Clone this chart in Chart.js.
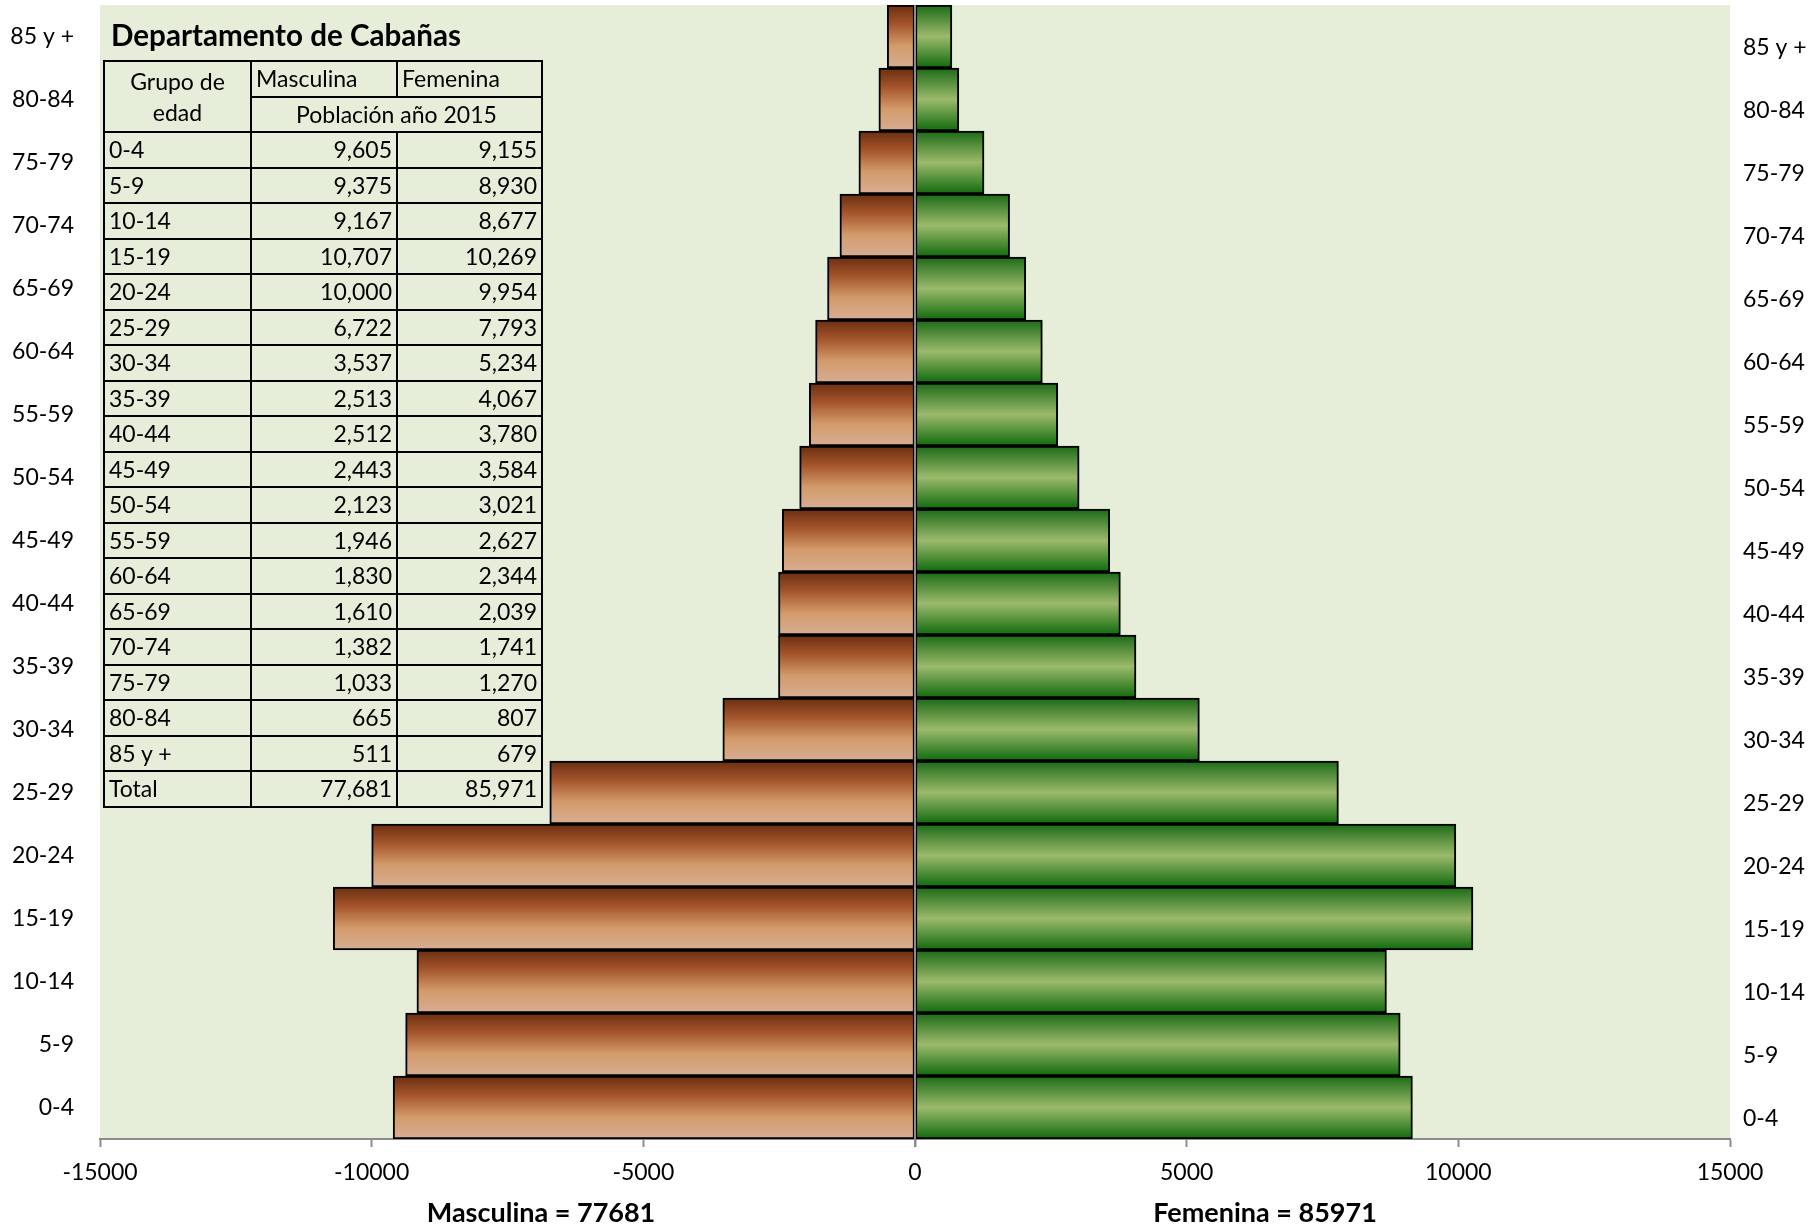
<!DOCTYPE html>
<html>
<head>
<meta charset="utf-8">
<script src="https://cdn.jsdelivr.net/npm/chart.js@4.4.1/dist/chart.umd.min.js"></script>
<style>
  body { margin: 0; background: #fff; }
  #marco { position: relative; width: 1820px; height: 1225px; font-family: Lato, "DejaVu Sans", sans-serif; color: #000; }
  #titulo { position: absolute; left: 111px; top: 16px; font-size: 29.6px; font-weight: bold; line-height: 38px; }
  #tabla { position: absolute; left: 103px; top: 60px; border-collapse: collapse; table-layout: fixed; font-size: 23px; }
  #tabla td { border: 2px solid #000; padding: 0 4px; height: 33.5px; line-height: 33px; white-space: nowrap; }
  #tabla td.num { text-align: right; }
  #tabla td.centro { text-align: center; }
  .total { position: absolute; top: 1195px; font-size: 27px; font-weight: bold; transform: translateX(-50%); white-space: nowrap; }
</style>
</head>
<body>
<div id="marco">
  <canvas id="grafico" width="1820" height="1225"></canvas>
  <div id="titulo">Departamento de Cabañas</div>
  <table id="tabla"></table>
  <div class="total" id="totalM" style="left:541px"></div>
  <div class="total" id="totalF" style="left:1265px"></div>
</div>
<script>
const edades = ["0-4", "5-9", "10-14", "15-19", "20-24", "25-29", "30-34", "35-39", "40-44",
  "45-49", "50-54", "55-59", "60-64", "65-69", "70-74", "75-79", "80-84", "85 y +"];
const masculina = [9605, 9375, 9167, 10707, 10000, 6722, 3537, 2513, 2512,
  2443, 2123, 1946, 1830, 1610, 1382, 1033, 665, 511];
const femenina = [9155, 8930, 8677, 10269, 9954, 7793, 5234, 4067, 3780,
  3584, 3021, 2627, 2344, 2039, 1741, 1270, 807, 679];
const anio = 2015;

const totalM = masculina.reduce((a, b) => a + b, 0);
const totalF = femenina.reduce((a, b) => a + b, 0);
const miles = n => n.toLocaleString('en-US');

// tabla de datos encima del grafico
let filas = `
  <colgroup><col style="width:147px"><col style="width:146px"><col style="width:145px"></colgroup>
  <tr><td class="centro" rowspan="2" style="line-height:31px">Grupo de<br>edad</td><td>Masculina</td><td>Femenina</td></tr>
  <tr><td class="centro" colspan="2">Población año ${anio}</td></tr>`;
edades.forEach((e, i) => {
  filas += `<tr><td>${e}</td><td class="num">${miles(masculina[i])}</td><td class="num">${miles(femenina[i])}</td></tr>`;
});
filas += `<tr><td>Total</td><td class="num">${miles(totalM)}</td><td class="num">${miles(totalF)}</td></tr>`;
document.getElementById('tabla').innerHTML = filas;
document.getElementById('totalM').textContent = 'Masculina = ' + totalM;
document.getElementById('totalF').textContent = 'Femenina = ' + totalF;

const colorMasc = [[0, '#6a2e12'], [0.3, '#a3542a'], [0.65, '#d39b6b'], [1, '#d7ad94']];
const colorFem = [[0, '#1b6a16'], [0.5, '#9cba6c'], [1, '#0f6a0c']];

function degradado(ctx, paradas) {
  const chart = ctx.chart;
  const y = chart.scales.y;
  if (!y || !chart.chartArea || ctx.dataIndex === undefined) return paradas[1][1];
  const alto = (chart.chartArea.bottom - chart.chartArea.top) / edades.length;
  const c = y.getPixelForValue(ctx.dataIndex);
  const g = chart.ctx.createLinearGradient(0, c - alto / 2, 0, c + alto / 2);
  paradas.forEach(p => g.addColorStop(p[0], p[1]));
  return g;
}

const fondoArea = {
  id: 'fondoArea',
  beforeDraw(chart) {
    const a = chart.chartArea, ctx = chart.ctx;
    ctx.save();
    ctx.fillStyle = '#e6eed9';
    ctx.fillRect(a.left, a.top, a.right - a.left, a.bottom - a.top);
    ctx.restore();
  },
  afterDatasetsDraw(chart) {
    const a = chart.chartArea, ctx = chart.ctx;
    const x0 = chart.scales.x.getPixelForValue(0);
    ctx.save();
    ctx.strokeStyle = '#8c8c8c';
    ctx.lineWidth = 2;
    ctx.beginPath();
    ctx.moveTo(x0, a.top);
    ctx.lineTo(x0, a.bottom + 8);
    ctx.stroke();
    ctx.restore();
  }
};

const fuente = { family: 'Lato', size: 23 };

// ancho fijo del eje y sin relleno extra arriba/abajo
const ajustarEje = ancho => s => {
  s.width = ancho;
  s.paddingTop = 0;
  s.paddingBottom = 0;
};

new Chart(document.getElementById('grafico'), {
  type: 'bar',
  data: {
    labels: edades,
    datasets: [
      {
        label: 'Masculina',
        data: masculina.map(v => -v),
        backgroundColor: ctx => degradado(ctx, colorMasc),
        borderColor: '#000',
        borderWidth: 2,
        borderSkipped: false
      },
      {
        label: 'Femenina',
        data: femenina,
        backgroundColor: ctx => degradado(ctx, colorFem),
        borderColor: '#000',
        borderWidth: 2,
        borderSkipped: false
      }
    ]
  },
  options: {
    indexAxis: 'y',
    responsive: false,
    animation: false,
    layout: { padding: { top: 5 }, autoPadding: false },
    datasets: { bar: { barPercentage: 1, categoryPercentage: 1 } },
    plugins: { legend: { display: false }, tooltip: { enabled: false } },
    scales: {
      x: {
        stacked: true,
        min: -15000,
        max: 15000,
        afterFit: s => { s.height = 86; },
        ticks: { stepSize: 5000, font: fuente, color: '#000', padding: 12, maxRotation: 0, callback: v => String(v) },
        grid: { drawOnChartArea: false, tickLength: 8, tickColor: '#8c8c8c', tickWidth: 2 },
        border: { color: '#8c8c8c', width: 2 }
      },
      y: {
        stacked: true,
        reverse: true,
        afterFit: ajustarEje(100),
        ticks: { font: fuente, color: '#000', padding: 26 },
        grid: { display: false, drawTicks: false },
        border: { display: false }
      },
      y2: {
        type: 'category',
        labels: edades,
        position: 'right',
        reverse: true,
        offset: true,
        afterFit: ajustarEje(90),
        ticks: { font: fuente, color: '#000', padding: 13, labelOffset: 11 },
        grid: { display: false, drawTicks: false },
        border: { display: false }
      }
    }
  },
  plugins: [fondoArea]
});
</script>
</body>
</html>
